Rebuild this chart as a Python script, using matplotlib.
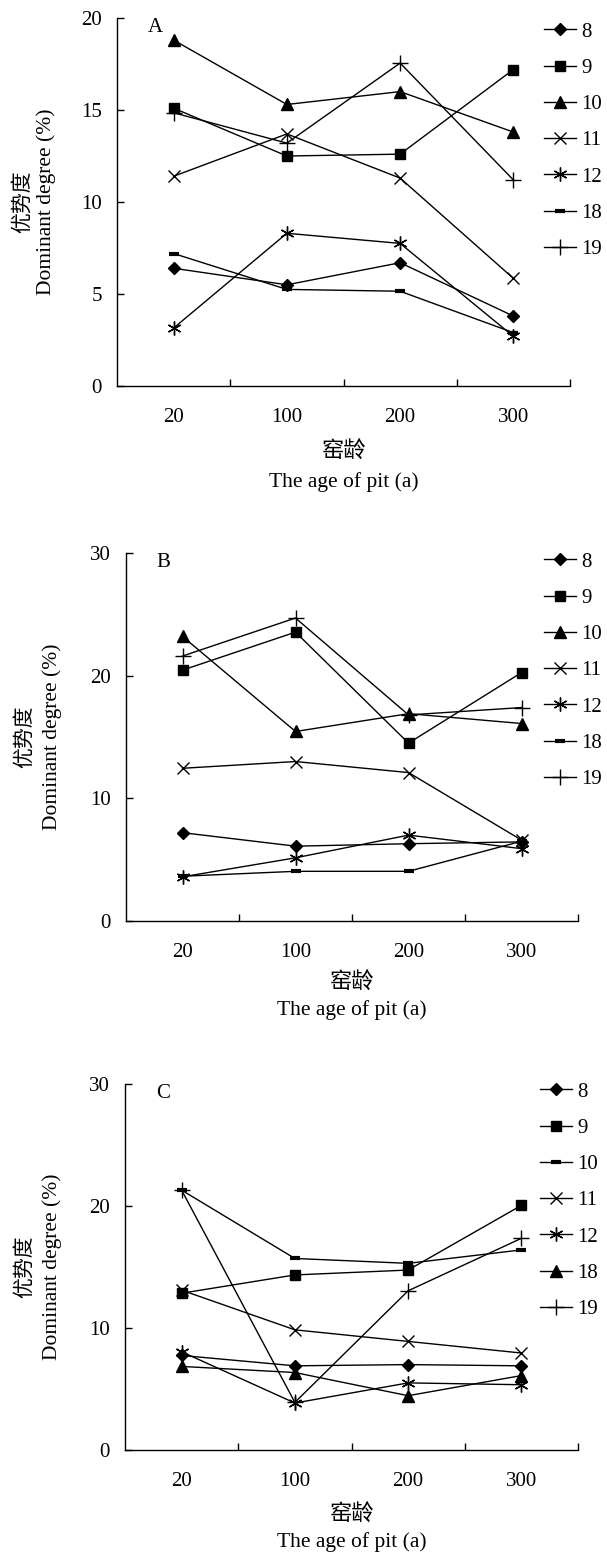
import matplotlib
matplotlib.use("Agg")
import matplotlib.pyplot as plt

plt.rcParams["font.family"] = ["Liberation Serif", "Noto Sans CJK SC"]
plt.rcParams["axes.linewidth"] = 1.0

W, H = 607, 1555

# ── 数据 ──
ages = ["20", "100", "200", "300"]

a_series = {
    "8":  [6.4, 5.5, 6.7, 3.8],
    "9":  [15.1, 12.5, 12.6, 17.2],
    "10": [18.8, 15.3, 16.0, 13.8],
    "11": [11.4, 13.7, 11.3, 5.85],
    "12": [3.15, 8.3, 7.75, 2.7],
    "18": [7.2, 5.25, 5.15, 2.9],
    "19": [14.85, 13.2, 17.55, 11.2],
}
b_series = {
    "8":  [7.2, 6.1, 6.3, 6.45],
    "9":  [20.45, 23.55, 14.5, 20.25],
    "10": [23.2, 15.45, 16.9, 16.1],
    "11": [12.45, 13.0, 12.1, 6.6],
    "12": [3.6, 5.15, 7.0, 5.9],
    "18": [3.65, 4.05, 4.05, 6.5],
    "19": [21.6, 24.7, 16.8, 17.4],
}
c_series = {
    "8":  [7.75, 6.9, 7.0, 6.9],
    "9":  [12.85, 14.35, 14.75, 20.05],
    "10": [21.3, 15.7, 15.3, 16.4],
    "11": [13.1, 9.85, 8.9, 7.95],
    "12": [8.05, 3.85, 5.5, 5.35],
    "18": [6.85, 6.35, 4.45, 6.1],
    "19": [21.3, 3.9, 13.05, 17.35],
}

# 标记样式
MARK = {
    "diamond": dict(marker="D", ms=6.5, mfc="black", mec="black"),
    "square": dict(marker="s", ms=6.5, mfc="black", mec="black"),
    "triangle": dict(marker="^", ms=8, mfc="black", mec="black"),
    "x": dict(marker="x", ms=9, mew=1.0, mec="black"),
    "star": dict(marker=(6, 2, 0), ms=10, mew=1.0, mec="black"),
    "dash": dict(marker="_", ms=7, mew=3.0, mec="black"),
    "plus": dict(marker="+", ms=11, mew=1.0, mec="black"),
}
styles_ab = ["diamond", "square", "triangle", "x", "star", "dash", "plus"]
styles_c = ["diamond", "square", "dash", "x", "star", "triangle", "plus"]

FS = 15


def fx(px):
    return px / W


def fy(py):
    return 1 - py / H


def draw_panel(box, series, styles, letter, ymax, ystep, layout):
    left, top, right, bottom = box
    ax = fig.add_axes([fx(left), fy(bottom), fx(right - left), (bottom - top) / H])
    x = list(range(len(ages)))
    for (name, vals), st in zip(series.items(), styles):
        ax.plot(x, vals, color="black", lw=1.0, label=name, **MARK[st])
    ax.set_xlim(-0.5, 3.5)
    ax.set_ylim(0, ymax)
    ax.set_yticks(range(0, ymax + 1, ystep))
    ax.set_xticks(x)
    ax.set_xticklabels(ages)
    ax.set_xticks([0.5, 1.5, 2.5, 3.5], minor=True)
    ax.tick_params(axis="x", which="major", length=0, pad=16, labelsize=FS)
    ax.tick_params(axis="x", which="minor", direction="in", length=5, width=1.0)
    ax.tick_params(axis="y", direction="in", length=5, width=1.0, pad=11, labelsize=FS)
    for s in ("top", "right"):
        ax.spines[s].set_visible(False)

    fig.text(fx(layout["letter"][0]), fy(layout["letter"][1]), letter,
             fontsize=FS, ha="center", va="center")

    cx = fx((left + right) / 2)
    fig.text(cx, fy(bottom + layout["xl1"]), "窑龄", fontsize=16,
             ha="center", va="center")
    fig.text(cx, fy(bottom + layout["xl2"]), "The age of pit (a)", fontsize=FS + 0.5,
             ha="center", va="center")

    cy = fy((top + bottom) / 2)
    fig.text(fx(layout["yl1"]), cy, "优势度", fontsize=15, rotation=90,
             ha="center", va="center")
    fig.text(fx(layout["yl2"]), cy, "Dominant degree (%)", fontsize=FS + 0.5,
             rotation=90, ha="center", va="center")

    fig.legend(*ax.get_legend_handles_labels(), loc="upper left",
               bbox_to_anchor=(fx(layout["leg"][0]), fy(layout["leg"][1])),
               frameon=False, fontsize=FS, handlelength=1.55,
               handletextpad=0.25, labelspacing=0.8, borderpad=0,
               borderaxespad=0, numpoints=1)
    return ax


fig = plt.figure(figsize=(W / 100, H / 100), dpi=100)

draw_panel((117, 18, 570, 386), a_series, styles_ab, "A", 20, 5,
           dict(letter=(155, 28), xl1=66, xl2=96, yl1=23, yl2=46, leg=(544, 22)))
draw_panel((126, 553, 578, 921), b_series, styles_ab, "B", 30, 10,
           dict(letter=(163, 562), xl1=62, xl2=89, yl1=25, yl2=52, leg=(544, 552)))
draw_panel((125, 1084, 578, 1450), c_series, styles_c, "C", 30, 10,
           dict(letter=(163, 1093), xl1=65, xl2=92, yl1=25, yl2=52, leg=(540, 1082)))

fig.savefig("out.png", dpi=100)
